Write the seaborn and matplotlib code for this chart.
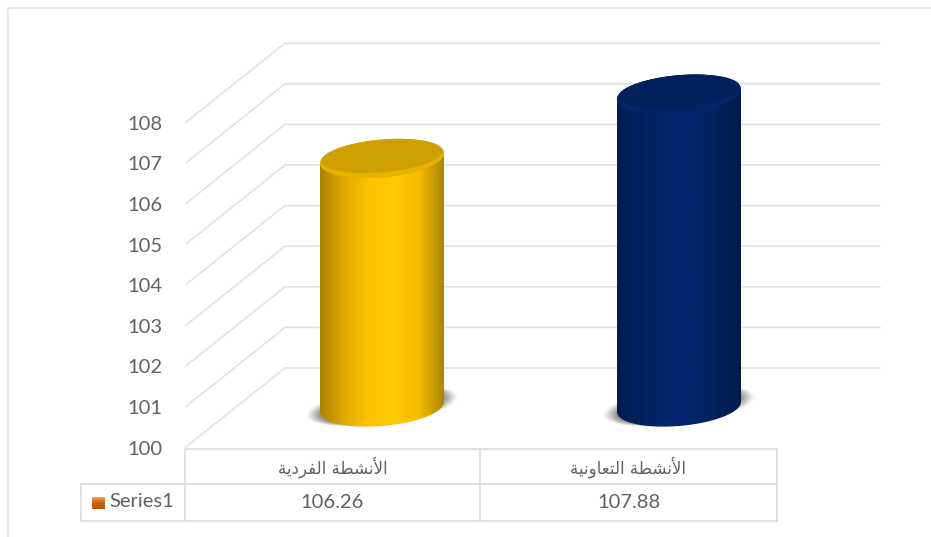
import numpy as np
import matplotlib
matplotlib.use("Agg")
import matplotlib.pyplot as plt
import seaborn as sns
from matplotlib.colors import LinearSegmentedColormap
from matplotlib.patches import PathPatch
from matplotlib.path import Path
from matplotlib.transforms import Affine2D

# Chart data
categories = ["الأنشطة الفردية", "الأنشطة التعاونية"]
values = [106.26, 107.88]
value_labels = ["106.26", "107.88"]
series_name = "Series1"
y_ticks = [100, 101, 102, 103, 104, 105, 106, 107, 108]

# Cylinder styling
body_stops = [
    ["#a98200", "#e2aa00", "#fcc400", "#ffca00", "#f6bc00", "#ad8600"],
    ["#011b4e", "#02225f", "#03276e", "#03276e", "#02225f", "#011a4b"],
]
lid_colors = ["#cda000", "#02215c"]
rim_colors = ["#e9b200", "#03246a"]

# Presentation forms: isolated, final, initial, medial
FORMS = {
    "ا": (0xFE8D, 0xFE8E, None, None), "أ": (0xFE83, 0xFE84, None, None),
    "ل": (0xFEDD, 0xFEDE, 0xFEDF, 0xFEE0), "ن": (0xFEE5, 0xFEE6, 0xFEE7, 0xFEE8),
    "ش": (0xFEB5, 0xFEB6, 0xFEB7, 0xFEB8), "ط": (0xFEC1, 0xFEC2, 0xFEC3, 0xFEC4),
    "ة": (0xFE93, 0xFE94, None, None), "ف": (0xFED1, 0xFED2, 0xFED3, 0xFED4),
    "ر": (0xFEAD, 0xFEAE, None, None), "د": (0xFEA9, 0xFEAA, None, None),
    "ي": (0xFEF1, 0xFEF2, 0xFEF3, 0xFEF4), "ت": (0xFE95, 0xFE96, 0xFE97, 0xFE98),
    "ع": (0xFEC9, 0xFECA, 0xFECB, 0xFECC), "و": (0xFEED, 0xFEEE, None, None),
}


def shape_arabic(text):
    """Join Arabic letters and return them in left-to-right drawing order."""
    out = []
    for word in text.split(" "):
        chars = []
        prev_joins = False
        i = 0
        while i < len(word):
            ch = word[i]
            if ch == "ل" and i + 1 < len(word) and word[i + 1] == "أ":
                chars.append(chr(0xFEF8 if prev_joins else 0xFEF7))
                prev_joins = False
                i += 2
                continue
            iso, fin, ini, med = FORMS[ch]
            next_exists = i + 1 < len(word)
            joins_next = ini is not None and next_exists
            if prev_joins and joins_next:
                code = med
            elif prev_joins:
                code = fin
            elif joins_next:
                code = ini
            else:
                code = iso
            chars.append(chr(code))
            prev_joins = joins_next
            i += 1
        out.append("".join(chars)[::-1])
    return " ".join(out[::-1])


W, H, DPI = 931, 537, 100
sns.set_theme(style="white", rc={"font.family": ["Lato", "DejaVu Sans"]})
fig = plt.figure(figsize=(W / DPI, H / DPI), dpi=DPI, facecolor="white")
px = Affine2D().scale(1, -1).translate(0, H)  # top-left pixel coordinates

TEXT = "#616161"
GRID = "#e2e2e2"
LINE = "#d8d8d8"

# Wall: x in pixels, y in axis units
wall = fig.add_axes([0, 0, 1, 1], zorder=1)
wall.set_axis_off()
unit_px = 40.6
wall.set_xlim(0, W)
wall.set_ylim(100 - (H - 447) / unit_px, 100 + 447 / unit_px)
depth = 79 / unit_px
for tick in y_ticks:
    wall.plot([186, 285, 880], [tick, tick + depth, tick + depth], color=GRID, lw=1.2,
              solid_joinstyle="miter")
    wall.text(162, tick - 0.05, str(tick), ha="right", va="center", fontsize=14.5, color=TEXT)

# Cylinders: categories on x, values on y
ax = fig.add_axes([0, 0, 1, 1], zorder=2)
sns.barplot(x=list(range(len(values))), y=values, hue=list(range(len(values))),
            palette=[s[3] for s in body_stops], width=0.4175, legend=False,
            ax=ax, saturation=1)
ax.set_axis_off()
ax.patch.set_alpha(0)
cat_px = 297.0
val_px = 39.7
x_lim = (-382 / cat_px, (W - 382) / cat_px)
y_lim = (100 - (H - 407) / val_px, 100 + 407 / val_px)
minor = 19 / val_px      # ellipse half-height
shear = 5 / val_px       # rise of the ellipse towards its right end
t_low = np.linspace(np.pi, 2 * np.pi, 60)
t_up = np.linspace(0, np.pi, 60)
t_full = np.linspace(0, 2 * np.pi, 120)

for i, (bar, value) in enumerate(zip(ax.patches, values)):
    cx = bar.get_x() + bar.get_width() / 2
    a = bar.get_width() / 2
    bar.set_visible(False)

    # Soft floor shadow, tilted more than the base
    for scale, alpha in zip(np.linspace(1.22, 1.02, 7), [0.05, 0.08, 0.10, 0.12, 0.14, 0.16, 0.18]):
        shadow = np.column_stack([cx + a * scale * np.cos(t_full),
                                  100 + 1 / val_px + 0.8 * minor * scale * np.sin(t_full)
                                  + 9 / val_px * np.cos(t_full)])
        ax.add_patch(PathPatch(Path(shadow, closed=False), facecolor="#555555",
                               edgecolor="none", alpha=alpha, zorder=2))

    # Body outline: lower arc of the base, then upper arc of the lid
    xs_low = cx + a * np.cos(t_low)
    ys_low = 100 + minor * np.sin(t_low) + shear * np.cos(t_low)
    xs_up = cx + a * np.cos(t_up)
    ys_up = value + minor * np.sin(t_up) + shear * np.cos(t_up)
    outline = np.column_stack([np.r_[xs_low, xs_up], np.r_[ys_low, ys_up]])
    body = PathPatch(Path(np.vstack([outline, outline[0]]), closed=True),
                     facecolor="none", edgecolor="none", zorder=3)
    ax.add_patch(body)
    cmap = LinearSegmentedColormap.from_list(f"body{i}", body_stops[i])
    img = ax.imshow(np.linspace(0, 1, 256)[None, :], cmap=cmap, aspect="auto", zorder=3,
                    extent=(cx - a, cx + a, 99, value + 1))
    img.set_clip_path(body)

    # Lid with a thin lighter rim at its front
    rim_xy = np.column_stack([cx + a * np.cos(t_full),
                              value + minor * np.sin(t_full) + shear * np.cos(t_full)])
    ax.add_patch(PathPatch(Path(rim_xy, closed=False), facecolor=rim_colors[i],
                           edgecolor="none", zorder=4))
    lid_xy = np.column_stack([cx + 0.98 * a * np.cos(t_full),
                              value + 2.5 / val_px + 0.86 * minor * np.sin(t_full)
                              + shear * np.cos(t_full)])
    ax.add_patch(PathPatch(Path(lid_xy, closed=False), facecolor=lid_colors[i],
                           edgecolor="none", zorder=5))

ax.set_xlim(*x_lim)
ax.set_ylim(*y_lim)

# Data table below the plot
top, mid, bottom = 449, 484, 521
left, col1, col2, right = 185, 480, 777, 81
table_lines = [
    ((left, top), (col2, top)), ((right, mid), (col2, mid)), ((right, bottom), (col2, bottom)),
    ((left, top), (left, bottom)), ((col1, top), (col1, bottom)), ((col2, top), (col2, bottom)),
    ((right, mid), (right, bottom)),
]
for start, end in table_lines:
    fig.add_artist(plt.Line2D([start[0], end[0]], [start[1], end[1]], transform=px,
                              color=LINE, lw=1.1, zorder=6))
centers = [(left + col1) / 2, (col1 + col2) / 2]
for cx, name, label in zip(centers, categories, value_labels):
    fig.text(cx, (top + mid) / 2 + 1, shape_arabic(name), transform=px, ha="center", va="center",
             fontsize=12, color=TEXT, family="DejaVu Sans", zorder=7)
    fig.text(cx, (mid + bottom) / 2, label, transform=px, ha="center", va="center",
             fontsize=14.5, color=TEXT, zorder=7)
fig.text(109, (mid + bottom) / 2 - 1, series_name, transform=px, ha="left", va="center",
         fontsize=14.5, color=TEXT, zorder=7)

# Legend key beside the series name
key_cmap = LinearSegmentedColormap.from_list("key", ["#f2a33a", "#c8620f", "#b5530a"])
key_ax = fig.add_axes([92 / W, 1 - 509 / H, 13 / W, 12 / H], zorder=7)
key_ax.imshow(np.linspace(0, 1, 32)[:, None], cmap=key_cmap, aspect="auto")
key_ax.set_axis_off()

# Outer chart border
for xs, ys in [((8, 8), (8, H)), ((8, W), (8, 8))]:
    fig.add_artist(plt.Line2D(xs, ys, transform=px, color="#e2e2e2", lw=1.2, zorder=8))

fig.savefig("out.png", dpi=DPI)
